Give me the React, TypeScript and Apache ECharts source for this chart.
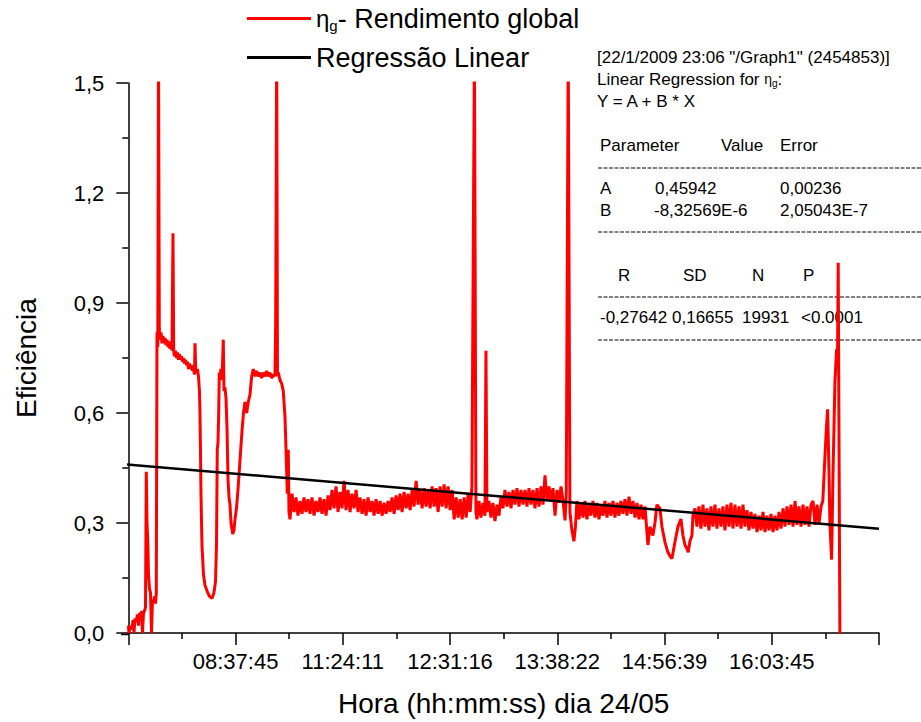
import React, { useEffect, useRef } from "react";
import * as echarts from "echarts";

const FONT = "'Liberation Sans', Arial, Helvetica, sans-serif";

// ---------- axes ----------
const xTickValues = [3000, 6000, 9000, 12000, 15000, 18000];
const xTickLabels = ["08:37:45", "11:24:11", "12:31:16", "13:38:22", "14:56:39", "16:03:45"];
const xMax = 21000;
const xInterval = 3000;
const yMax = 1.5;
const yInterval = 0.3;

// ---------- linear regression (Origin output) ----------
const regA = 0.45942;
const regB = -8.32569e-6;
const regXStart = -200;
const regXEnd = 21000;

const fitHeader = '[22/1/2009 23:06 "/Graph1" (2454853)]';
const paramHeaders = ["Parameter", "Value", "Error"];
const paramRowA = ["A", "0,45942", "0,00236"];
const paramRowB = ["B", "-8,32569E-6", "2,05043E-7"];
const statHeaders = ["R", "SD", "N", "P"];
const statValues = ["-0,27642", "0,16655", "19931", "<0.0001"];

// ---------- η_g series: [sample index, efficiency] ----------
const sampleStep = 56;

const dawnRamp: [number, number][] = [
  [0, 0.02], [20, 0], [62, 0.02], [103, 0.01], [131, 0.035], [159, 0], [187, 0.04], [215, 0.03],
  [257, 0.05], [285, 0.02], [313, 0.055], [341, 0.04], [369, 0.06], [397, 0], [425, 0.055],
  [453, 0.06], [481, 0.07], [503, 0.44], [523, 0.3], [545, 0.25], [565, 0.16], [593, 0.12],
  [621, 0.11], [649, 0], [677, 0.09], [705, 0.08], [733, 0.1], [761, 0.08], [783, 0.11],
];

const firstPlateau: [number, number][] = [
  [803, 0.82], [825, 0.78], [845, 1.6], [867, 0.83], [887, 0.8], [915, 0.82], [943, 0.79],
  [971, 0.81], [999, 0.79], [1027, 0.805], [1054, 0.785], [1082, 0.8], [1110, 0.78], [1138, 0.795],
  [1166, 0.775], [1194, 0.79], [1222, 0.77], [1250, 1.09], [1270, 0.77], [1292, 0.755], [1320, 0.77],
  [1348, 0.75], [1376, 0.765], [1404, 0.745], [1432, 0.76], [1460, 0.745], [1488, 0.755], [1516, 0.74],
  [1544, 0.75], [1572, 0.735], [1600, 0.745], [1628, 0.73], [1656, 0.74], [1684, 0.72], [1712, 0.735],
  [1740, 0.72], [1768, 0.73], [1796, 0.715], [1824, 0.72], [1852, 0.705], [1866, 0.79], [1885, 0.72],
  [1908, 0.71], [1935, 0.72], [1963, 0.7],
];

const morningDip: [number, number][] = [
  [1991, 0.66], [2005, 0.6], [2019, 0.5], [2033, 0.38], [2061, 0.24], [2103, 0.16], [2145, 0.13],
  [2201, 0.115], [2271, 0.1], [2341, 0.095], [2397, 0.11], [2439, 0.14], [2467, 0.24], [2489, 0.5],
  [2509, 0.52], [2529, 0.6], [2545, 0.71], [2565, 0.7], [2593, 0.72], [2621, 0.69], [2657, 0.8],
  [2677, 0.66], [2705, 0.67], [2733, 0.64], [2761, 0.56], [2789, 0.42], [2817, 0.37], [2845, 0.35],
  [2873, 0.3], [2920, 0.27], [2956, 0.28], [2984, 0.31], [3026, 0.34], [3068, 0.39], [3124, 0.47],
  [3180, 0.55], [3222, 0.6], [3264, 0.63],
];

const secondPlateau: [number, number][] = [
  [3312, 0.6], [3356, 0.63], [3404, 0.65], [3451, 0.7], [3496, 0.72], [3544, 0.7], [3591, 0.715],
  [3636, 0.7], [3684, 0.71], [3731, 0.695], [3776, 0.71], [3824, 0.7], [3871, 0.715], [3916, 0.7],
  [3963, 0.71], [4011, 0.695], [4056, 0.705], [4103, 0.7], [4123, 0.85], [4151, 1.6], [4173, 0.7],
  [4196, 0.71], [4243, 0.69], [4291, 0.68], [4335, 0.66], [4383, 0.59], [4403, 0.53], [4430, 0.44],
  [4447, 0.38], [4475, 0.5], [4495, 0.33],
];

const band1Start = 4523;
const band1Y = [
  0.31, 0.38, 0.33, 0.37, 0.32, 0.36, 0.325, 0.37, 0.33, 0.365,
  0.325, 0.37, 0.32, 0.36, 0.33, 0.37, 0.325, 0.365, 0.32, 0.375,
  0.335, 0.39, 0.34, 0.4, 0.33, 0.385, 0.34, 0.415, 0.335, 0.39,
  0.33, 0.38, 0.34, 0.39, 0.33, 0.37, 0.325, 0.365, 0.32, 0.37,
  0.33, 0.36, 0.32, 0.365, 0.325, 0.36, 0.32, 0.355, 0.325, 0.36,
  0.33, 0.37, 0.325, 0.375, 0.335, 0.38, 0.33, 0.385, 0.34, 0.38,
  0.335, 0.39, 0.345, 0.415, 0.35, 0.39, 0.34, 0.395, 0.345, 0.39,
  0.34, 0.4, 0.345, 0.395, 0.33, 0.4, 0.345, 0.405, 0.34, 0.4,
  0.335, 0.39, 0.31, 0.37, 0.315, 0.365, 0.31, 0.37, 0.315, 0.38,
  0.33,
];

const noonSpike: [number, number][] = [[9612, 0.4], [9683, 1.6], [9725, 0.33]];

const band2Start = 9753;
const band2Y = [0.31, 0.36, 0.315, 0.355, 0.32];

const secondSpike: [number, number][] = [[10005, 0.77]];

const band3Start = 10033;
const band3Y = [
  0.33, 0.36, 0.315, 0.355, 0.305, 0.35, 0.32, 0.37, 0.34, 0.39,
  0.345, 0.385, 0.34, 0.39, 0.35, 0.395, 0.345, 0.39, 0.35, 0.39,
  0.345, 0.395, 0.35, 0.39, 0.34, 0.395, 0.345, 0.4, 0.35, 0.43,
  0.36, 0.4, 0.36, 0.395, 0.32, 0.39, 0.355, 0.4, 0.36, 0.307,
];

const afternoonSpike: [number, number][] = [
  [12251, 0.38], [12307, 1.6], [12354, 0.33], [12410, 0.28], [12466, 0.25], [12508, 0.29],
];

const band4Start = 12550;
const band4Y = [
  0.36, 0.31, 0.355, 0.315, 0.36, 0.31, 0.35, 0.32, 0.36, 0.315,
  0.355, 0.31, 0.35, 0.32, 0.36, 0.315, 0.355, 0.32, 0.36, 0.315,
  0.355, 0.32, 0.36, 0.325, 0.365, 0.32, 0.372, 0.325, 0.36, 0.315,
  0.355, 0.31, 0.35, 0.31, 0.345,
];

const afternoonDips: [number, number][] = [
  [14536, 0.24], [14592, 0.29], [14676, 0.266], [14732, 0.3], [14788, 0.35], [14872, 0.34],
  [14928, 0.29], [15012, 0.248], [15096, 0.22], [15152, 0.21], [15208, 0.203], [15292, 0.248],
  [15376, 0.29], [15460, 0.311], [15516, 0.266], [15572, 0.24], [15628, 0.23], [15663, 0.22],
  [15711, 0.25], [15767, 0.266], [15795, 0.32],
];

const band5Start = 15851;
const band5Y = [
  0.34, 0.29, 0.345, 0.285, 0.35, 0.29, 0.34, 0.28, 0.345, 0.29,
  0.35, 0.285, 0.34, 0.29, 0.345, 0.28, 0.35, 0.29, 0.355, 0.285,
  0.35, 0.29, 0.345, 0.285, 0.35, 0.29, 0.335, 0.28, 0.33, 0.285,
  0.325, 0.275, 0.32, 0.28, 0.33, 0.275, 0.32, 0.28, 0.325, 0.275,
  0.32, 0.28, 0.33, 0.285, 0.34, 0.29, 0.345, 0.295, 0.35, 0.29,
  0.36, 0.295, 0.345, 0.29, 0.35, 0.295, 0.345, 0.29, 0.35, 0.36,
  0.295, 0.35, 0.3, 0.345,
];

const sunsetEnd: [number, number][] = [
  [19428, 0.36], [19487, 0.48], [19529, 0.56], [19563, 0.61], [19599, 0.45], [19627, 0.3],
  [19674, 0.2], [19711, 0.42], [19767, 0.684], [19815, 0.774], [19837, 0.72], [19859, 1.01],
  [19878, 0.6], [19906, 0], [19931, 0],
];

const band = (start: number, ys: number[]): [number, number][] =>
  ys.map((y, i) => [start + i * sampleStep, y]);

const etaData: [number, number][] = [
  ...dawnRamp,
  ...firstPlateau,
  ...morningDip,
  ...secondPlateau,
  ...band(band1Start, band1Y),
  ...noonSpike,
  ...band(band2Start, band2Y),
  ...secondSpike,
  ...band(band3Start, band3Y),
  ...afternoonSpike,
  ...band(band4Start, band4Y),
  ...afternoonDips,
  ...band(band5Start, band5Y),
  ...sunsetEnd,
];

const regData: [number, number][] = [
  [regXStart, regA + regB * regXStart],
  [regXEnd, regA + regB * regXEnd],
];

const ETA_NAME = "ηg- Rendimento global";
const REG_NAME = "Regressão Linear";

export default function App() {
  const ref = useRef<HTMLDivElement>(null);

  useEffect(() => {
    document.body.style.margin = "0";
    if (!ref.current) return;
    const chart = echarts.init(ref.current, undefined, { renderer: "svg" });

    const txt = (text: string, x: number, y: number, size = 17): any => ({
      type: "text",
      x,
      y,
      style: {
        text,
        fontFamily: FONT,
        fontSize: size,
        fill: "#000",
        verticalAlign: "middle",
        align: "left",
      },
    });
    const dash = (y: number): any => ({
      type: "line",
      shape: { x1: 598, y1: y, x2: 921, y2: y },
      style: { stroke: "#000", lineWidth: 1, lineDash: [4, 1.5] },
    });

    const legendBase = {
      orient: "horizontal",
      left: 247,
      icon: "rect",
      itemWidth: 64,
      itemHeight: 3,
      padding: 0,
      selectedMode: false,
    };

    chart.setOption({
      animation: false,
      backgroundColor: "#fff",
      grid: { left: 128.3, right: 42, top: 83, bottom: 87.5, containLabel: false },
      legend: [
        {
          ...legendBase,
          top: 5,
          data: [ETA_NAME],
          formatter: () => "{eta|η}{sub|g}{t|- Rendimento global}",
          textStyle: {
            fontFamily: FONT,
            fontSize: 27,
            color: "#000",
            rich: {
              eta: { fontFamily: FONT, fontSize: 24, color: "#000" },
              sub: { fontFamily: FONT, fontSize: 15, color: "#000", verticalAlign: "bottom", padding: [14, 0, 0, 0] },
              t: { fontFamily: FONT, fontSize: 27, color: "#000" },
            },
          },
        },
        {
          ...legendBase,
          top: 44,
          data: [REG_NAME],
          textStyle: { fontFamily: FONT, fontSize: 27, color: "#000" },
        },
      ],
      xAxis: {
        type: "value",
        min: 0,
        max: xMax,
        interval: xInterval,
        name: "Hora (hh:mm:ss) dia 24/05",
        nameLocation: "middle",
        nameGap: 56,
        nameTextStyle: { fontFamily: FONT, fontSize: 28, color: "#000" },
        axisLine: { show: true, lineStyle: { color: "#000", width: 1.5 } },
        axisTick: { show: true, length: 12, lineStyle: { color: "#000", width: 1.5 } },
        minorTick: { show: true, splitNumber: 2, length: 6, lineStyle: { color: "#000", width: 1.5 } },
        splitLine: { show: false },
        axisLabel: {
          margin: 17,
          fontFamily: FONT,
          fontSize: 22,
          color: "#000",
          formatter: (v: number) => {
            const i = xTickValues.indexOf(Math.round(v));
            return i >= 0 ? xTickLabels[i] : "";
          },
        },
      },
      yAxis: {
        type: "value",
        min: 0,
        max: yMax,
        interval: yInterval,
        offset: 7,
        name: "Eficiência",
        nameLocation: "middle",
        nameGap: 81,
        nameRotate: 90,
        nameTextStyle: { fontFamily: FONT, fontSize: 28, color: "#000" },
        axisLine: { show: true, lineStyle: { color: "#000", width: 1.5 } },
        axisTick: { show: true, length: 12, lineStyle: { color: "#000", width: 1.5 } },
        minorTick: { show: true, splitNumber: 2, length: 6, lineStyle: { color: "#000", width: 1.5 } },
        splitLine: { show: false },
        axisLabel: {
          margin: 17,
          fontFamily: FONT,
          fontSize: 22,
          color: "#000",
          formatter: (v: number) => v.toFixed(1).replace(".", ","),
        },
      },
      series: [
        {
          name: ETA_NAME,
          type: "line",
          data: etaData,
          showSymbol: false,
          symbol: "none",
          clip: true,
          color: "#ff0000",
          lineStyle: { color: "#ff0000", width: 3 },
          z: 2,
        },
        {
          name: REG_NAME,
          type: "line",
          data: regData,
          showSymbol: false,
          symbol: "none",
          clip: false,
          color: "#000",
          lineStyle: { color: "#000", width: 2.5 },
          z: 3,
        },
      ],
      graphic: [
        {
          type: "line",
          shape: { x1: 121, y1: 634.5, x2: 129, y2: 634.5 },
          style: { stroke: "#000", lineWidth: 1.5 },
        },
        txt(fitHeader, 597, 57),
        {
          type: "text",
          x: 597,
          y: 79,
          style: {
            text: "{a|Linear Regression for }{e|η}{s|g}{a|:}",
            fill: "#000",
            verticalAlign: "middle",
            rich: {
              a: { fontFamily: FONT, fontSize: 17, fill: "#000" },
              e: { fontFamily: FONT, fontSize: 14, fill: "#000" },
              s: { fontFamily: FONT, fontSize: 10, fill: "#000", verticalAlign: "bottom", padding: [8, 0, 0, 0] },
            },
          },
        },
        txt("Y = A + B * X", 597, 101),
        txt(paramHeaders[0], 600, 145),
        txt(paramHeaders[1], 721, 145),
        txt(paramHeaders[2], 780, 145),
        dash(168),
        txt(paramRowA[0], 600, 188),
        txt(paramRowA[1], 655, 188),
        txt(paramRowA[2], 780, 188),
        txt(paramRowB[0], 600, 210),
        txt(paramRowB[1], 654, 210),
        txt(paramRowB[2], 780, 210),
        dash(232),
        txt(statHeaders[0], 618, 275),
        txt(statHeaders[1], 683, 275),
        txt(statHeaders[2], 752, 275),
        txt(statHeaders[3], 803, 275),
        dash(297),
        txt(statValues[0], 600, 317),
        txt(statValues[1], 672, 317),
        txt(statValues[2], 742, 317),
        txt(statValues[3], 801, 317),
        dash(340),
      ],
    });

    return () => chart.dispose();
  }, []);

  return <div ref={ref} style={{ width: 921, height: 722 }} />;
}
